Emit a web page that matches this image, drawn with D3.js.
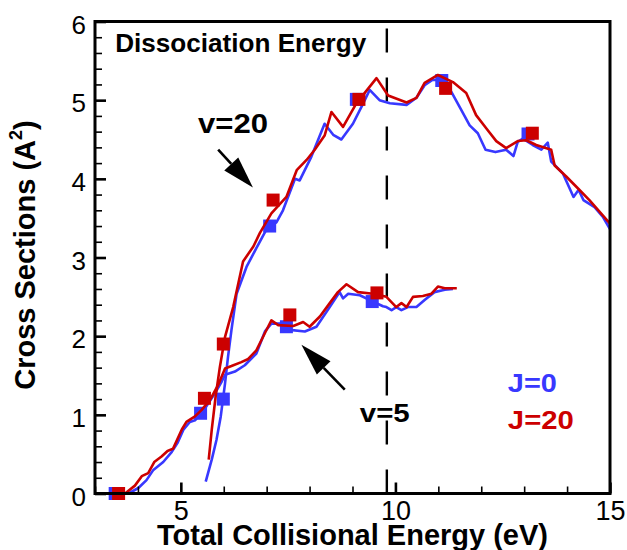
<!DOCTYPE html>
<html>
<head>
<meta charset="utf-8">
<script src="https://cdn.jsdelivr.net/npm/d3@7"></script>
<style>
  html, body { margin: 0; padding: 0; background: #fff; }
  svg { display: block; }
  text { font-family: "Liberation Sans", Arial, Helvetica, sans-serif; }
</style>
</head>
<body>
<svg id="chart" width="627" height="550"></svg>
<script>
// Cross sections vs. total collisional energy, v=5 and v=20, J=0 and J=20

// Curves: [energy (eV), cross section (A^2)]
const v20J0 = [
  [5.58,0.15],[5.72,0.43],[5.83,0.68],[5.93,0.98],[6.03,1.40],[6.10,1.74],[6.18,2.08],
  [6.30,2.54],[6.53,2.88],[6.76,3.12],[6.99,3.35],[7.23,3.45],[7.38,3.60],[7.66,4.00],
  [7.77,3.98],[8.04,4.28],[8.35,4.70],[8.55,4.56],[8.74,4.50],[9.01,4.70],[9.25,4.96],
  [9.40,5.13],[9.63,5.00],[9.87,4.96],[10.26,4.94],[10.49,5.03],[10.68,5.19],[10.87,5.26],
  [11.07,5.25],[11.30,5.11],[11.54,4.87],[11.73,4.68],[11.92,4.58],[12.10,4.37],[12.33,4.34],
  [12.58,4.37],[12.75,4.29],[12.85,4.47],[12.97,4.51],[13.20,4.43],[13.40,4.37],[13.55,4.46],
  [13.63,4.22],[13.90,4.07],[14.15,3.77],[14.27,3.86],[14.38,3.73],[14.64,3.64],[14.83,3.52],
  [15.00,3.36]
];
const v20J20 = [
  [5.65,0.43],[5.72,0.81],[5.81,1.23],[5.91,1.61],[6.03,1.99],[6.22,2.37],[6.45,2.95],
  [6.69,3.14],[6.84,3.31],[7.11,3.56],[7.46,3.77],[7.70,4.11],[7.93,4.24],[8.12,4.37],
  [8.35,4.55],[8.51,4.85],[8.78,4.66],[9.09,4.96],[9.56,5.28],[9.83,5.06],[10.26,4.97],
  [10.49,5.03],[10.68,5.22],[10.99,5.32],[11.34,5.23],[11.65,5.09],[11.88,4.81],[12.12,4.64],
  [12.35,4.48],[12.58,4.39],[12.85,4.48],[13.05,4.49],[13.28,4.43],[13.63,4.37],[13.71,4.17],
  [13.98,4.03],[14.25,3.88],[14.52,3.73],[15.00,3.43]
];
const v5J0 = [
  [3.50,0.00],[3.78,0.00],[4.01,0.07],[4.20,0.17],[4.36,0.30],[4.59,0.40],[4.79,0.53],
  [4.92,0.64],[5.06,0.81],[5.21,0.91],[5.33,0.93],[5.56,1.08],[5.79,1.27],[5.95,1.42],
  [6.03,1.51],[6.26,1.55],[6.49,1.63],[6.76,1.78],[6.96,2.06],[7.11,2.16],[7.31,2.16],
  [7.54,2.08],[7.89,2.06],[8.16,2.12],[8.47,2.37],[8.70,2.56],[8.78,2.48],[8.90,2.54],
  [9.17,2.52],[9.48,2.44],[9.71,2.38],[9.79,2.37],[9.91,2.33],[10.02,2.37],[10.14,2.33],
  [10.29,2.37],[10.49,2.37],[10.68,2.46],[10.91,2.56],[11.15,2.59],[11.34,2.60]
];
const v5J20 = [
  [3.60,0.00],[3.70,0.00],[3.93,0.10],[4.09,0.22],[4.24,0.26],[4.38,0.40],[4.55,0.47],
  [4.69,0.54],[4.82,0.57],[5.02,0.81],[5.13,0.91],[5.33,0.98],[5.48,1.06],[5.68,1.19],
  [5.87,1.38],[6.03,1.59],[6.18,1.62],[6.41,1.67],[6.57,1.71],[6.76,1.82],[6.96,2.04],
  [7.11,2.20],[7.27,2.14],[7.62,2.13],[7.85,2.18],[8.00,2.12],[8.24,2.25],[8.47,2.42],
  [8.66,2.56],[8.86,2.66],[9.13,2.56],[9.48,2.54],[9.79,2.50],[10.02,2.37],[10.14,2.42],
  [10.26,2.37],[10.41,2.50],[10.64,2.51],[10.84,2.54],[10.99,2.63],[11.15,2.61],[11.43,2.61]
];

// Reference points (squares)
const pointsJ0 = [
  [3.47,0.00],[5.46,1.02],[5.99,1.20],[7.07,3.40],[7.46,2.12],[9.09,5.01],[9.46,2.44],
  [11.08,5.25],[13.09,4.57]
];
const pointsJ20 = [
  [3.55,0.00],[5.55,1.21],[5.99,1.90],[7.15,3.73],[7.54,2.27],[9.15,5.01],[9.57,2.55],
  [11.17,5.15],[13.19,4.58]
];

// Axes
const xDomain = [3, 15];
const yDomain = [0, 6];
const xMajorTicks = [5, 10, 15];
const xMinorTicks = [3, 4, 6, 7, 8, 9, 11, 12, 13, 14];
const yMajorTicks = [0, 1, 2, 3, 4, 5, 6];
const yMinorTicks = d3.range(0, 30).map(i => +(i * 0.2).toFixed(1)).filter(v => v % 1 !== 0);
const dissociationEnergy = 9.8;

// Annotations in data coordinates
const arrows = [
  { from: [5.87, 4.37], to: [6.68, 3.89] },
  { from: [8.82, 1.32], to: [7.81, 1.89] }
];
const labels = [
  { text: "Dissociation Energy", at: [3.47, 5.61], size: 26, color: "#000", width: 251 },
  { text: "v=20", at: [5.40, 4.58], size: 27, color: "#000", width: 70 },
  { text: "v=5", at: [9.17, 0.91], size: 25, color: "#000", width: 50 },
  { text: "J=0", at: [12.62, 1.29], size: 25, color: "#3838ff", width: 49 },
  { text: "J=20", at: [12.62, 0.82], size: 25, color: "#cc0000", width: 66 }
];

const blue = "#3838ff";
const red = "#cc0000";

const svg = d3.select("#chart");
const plotLeft = 95, plotRight = 610, plotTop = 21.5, plotBottom = 493.5;

const x = d3.scaleLinear().domain(xDomain).range([plotLeft, plotRight]);
const y = d3.scaleLinear().domain(yDomain).range([plotBottom, plotTop]);

// Dissociation energy marker
svg.append("line")
  .attr("x1", x(dissociationEnergy)).attr("x2", x(dissociationEnergy))
  .attr("y1", y(0)).attr("y2", y(6))
  .attr("stroke", "#000").attr("stroke-width", 2.4)
  .attr("stroke-dasharray", "24,25");

const line = d3.line().x(d => x(d[0])).y(d => y(d[1]));

function drawSeries(curves, pts, color) {
  curves.forEach(c => {
    svg.append("path").datum(c)
      .attr("d", line)
      .attr("fill", "none")
      .attr("stroke", color)
      .attr("stroke-width", 2.6)
      .attr("stroke-linejoin", "round");
  });
  const s = 13;
  svg.append("g").selectAll("rect").data(pts).join("rect")
    .attr("x", d => x(d[0]) - s / 2)
    .attr("y", d => y(d[1]) - s / 2)
    .attr("width", s).attr("height", s)
    .attr("fill", color);
}
drawSeries([v20J0, v5J0], pointsJ0, blue);
drawSeries([v20J20, v5J20], pointsJ20, red);

// Axes with inward ticks
const gx = svg.append("g").attr("transform", `translate(0,${plotBottom})`);
gx.call(d3.axisBottom(x).tickValues(xMinorTicks).tickSize(-7).tickFormat(""));
const gxMaj = svg.append("g").attr("transform", `translate(0,${plotBottom})`)
  .call(d3.axisBottom(x).tickValues(xMajorTicks).tickSize(-11).tickPadding(7).tickFormat(d3.format("d")));

const gy = svg.append("g").attr("transform", `translate(${plotLeft},0)`);
gy.call(d3.axisLeft(y).tickValues(yMinorTicks).tickSize(-7).tickFormat(""));
const gyMaj = svg.append("g").attr("transform", `translate(${plotLeft},0)`)
  .call(d3.axisLeft(y).tickValues(yMajorTicks).tickSize(-11).tickPadding(9).tickFormat(d3.format("d")));

[gx, gy].forEach(g => {
  g.select(".domain").remove();
  g.selectAll(".tick line").attr("stroke", "#000").attr("stroke-width", 1.6);
});
[gxMaj, gyMaj].forEach(g => {
  g.select(".domain").remove();
  g.selectAll(".tick line").attr("stroke", "#000").attr("stroke-width", 2.6);
  g.selectAll(".tick text")
    .attr("font-family", "'Liberation Sans', Arial, sans-serif")
    .attr("font-size", 27).attr("fill", "#000");
});
gyMaj.selectAll(".tick text").attr("font-size", 26).attr("dy", "0.45em");

// Frame
svg.append("rect")
  .attr("x", plotLeft).attr("y", plotTop)
  .attr("width", plotRight - plotLeft).attr("height", plotBottom - plotTop)
  .attr("fill", "none").attr("stroke", "#000").attr("stroke-width", 3);

// Arrows
arrows.forEach(a => {
  const x1 = x(a.from[0]), y1 = y(a.from[1]);
  const x2 = x(a.to[0]), y2 = y(a.to[1]);
  const ang = Math.atan2(y2 - y1, x2 - x1);
  const hl = 32, hw = 9.5;
  const bx = x2 - hl * Math.cos(ang), by = y2 - hl * Math.sin(ang);
  svg.append("line")
    .attr("x1", x1).attr("y1", y1).attr("x2", bx).attr("y2", by)
    .attr("stroke", "#000").attr("stroke-width", 2.6);
  const px = -Math.sin(ang) * hw, py = Math.cos(ang) * hw;
  svg.append("path")
    .attr("d", `M${x2},${y2}L${bx + px},${by + py}L${bx - px},${by - py}Z`)
    .attr("fill", "#000");
});

// Text labels
labels.forEach(l => {
  svg.append("text")
    .attr("x", x(l.at[0])).attr("y", y(l.at[1]))
    .attr("font-size", l.size).attr("font-weight", "bold")
    .attr("fill", l.color)
    .attr("textLength", l.width).attr("lengthAdjust", "spacingAndGlyphs")
    .text(l.text);
});

// Axis titles
svg.append("text")
  .attr("x", (plotLeft + plotRight) / 2).attr("y", 545)
  .attr("text-anchor", "middle")
  .attr("font-size", 29).attr("font-weight", "bold")
  .text("Total Collisional Energy (eV)");

const yt = svg.append("text")
  .attr("transform", `translate(35,${255}) rotate(-90)`)
  .attr("text-anchor", "middle")
  .attr("font-size", 29).attr("font-weight", "bold");
yt.append("tspan").text("Cross Sections (A");
yt.append("tspan").attr("font-size", 18).attr("dy", -13).text("2");
yt.append("tspan").attr("dy", 13).text(")");
</script>
</body>
</html>
